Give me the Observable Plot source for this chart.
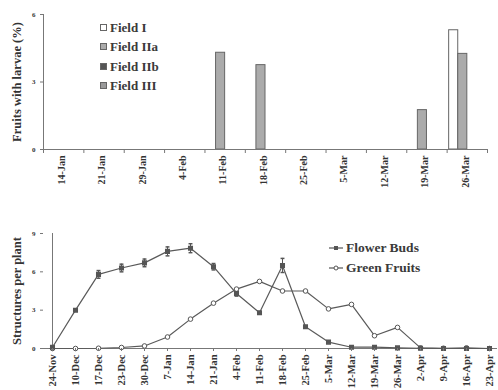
<!DOCTYPE html>
<html>
<head>
<meta charset="utf-8">
<script src="https://cdn.jsdelivr.net/npm/d3@7"></script>
<script src="https://cdn.jsdelivr.net/npm/@observablehq/plot@0.6"></script>
<style>
  body { margin: 0; background: #fff; }
  #wrap { position: relative; width: 498px; font-family: "Liberation Serif", "Times New Roman", serif; color: #333; }
  #wrap svg { display: block; }
  .leg { position: absolute; font-weight: bold; color: #3a3a3a; white-space: nowrap; }
  .leg div { display: flex; align-items: center; }
  .sw { display: inline-block; width: 7px; height: 7px; border: 1px solid #666; margin-right: 3px; box-sizing: border-box; }
</style>
</head>
<body>
<div id="wrap"></div>
<script>
// ---- Top chart data ----
const dates1 = ["14-Jan","21-Jan","29-Jan","4-Feb","11-Feb","18-Feb","25-Feb","5-Mar","12-Mar","19-Mar","26-Mar"];
const fields = ["Field I","Field IIa","Field IIb","Field III"];
const fieldI   = [0,0,0,0,0,0,0,0,0,0,5.3];
const fieldIIa = [0,0,0,0,4.3,3.75,0,0,0,1.75,4.25];
const fieldIIb = [0,0,0,0,0,0,0,0,0,0,0];
const fieldIII = [0,0,0,0,0,0,0,0,0,0,0];
const fieldColors = ["#ffffff","#ababab","#555555","#9a9a9a"];
const yTicks1 = [0,3,6];

// ---- Bottom chart data ----
const dates2 = ["24-Nov","10-Dec","17-Dec","23-Dec","30-Dec","7-Jan","14-Jan","21-Jan","4-Feb","11-Feb","18-Feb","25-Feb","5-Mar","12-Mar","19-Mar","26-Mar","2-Apr","9-Apr","16-Apr","23-Apr"];
const flowerBuds  = [0.1,3.0,5.8,6.3,6.7,7.6,7.85,6.4,4.3,2.8,6.5,1.7,0.5,0.1,0.1,0.05,0.02,0,0,0];
const budsErr     = [0,0,0.3,0.3,0.3,0.35,0.35,0.25,0.2,0,0.55,0,0,0,0,0,0,0,0,0];
const greenFruits = [0,0,0.02,0.08,0.2,0.9,2.3,3.55,4.65,5.25,4.5,4.5,3.1,3.45,1.0,1.65,0.05,0.02,0.05,0];
const yTicks2 = [0,3,6,9];

const serif = "Liberation Serif, Times New Roman, serif";
const wrap = document.getElementById("wrap");

// ---------- Top: grouped bars ----------
const series1 = [fieldI, fieldIIa, fieldIIb, fieldIII];
const rows1 = [];
fields.forEach((f, j) => dates1.forEach((d, i) => rows1.push({i, j, field: f, date: d, value: series1[j][i]})));
const pad = 0.05, w = (1 - 2 * pad) / fields.length;

const topChart = Plot.plot({
  width: 498, height: 200,
  marginLeft: 43, marginRight: 11, marginTop: 14, marginBottom: 51,
  style: {fontFamily: serif, color: "#333", background: "#fff"},
  x: {type: "linear", domain: [0, dates1.length]},
  y: {domain: [0, 6]},
  color: {domain: fields, range: fieldColors},
  marks: [
    Plot.rectY(rows1.filter(r => r.value > 0), {
      x1: r => r.i + pad + r.j * w, x2: r => r.i + pad + (r.j + 1) * w,
      y1: 0, y2: "value", fill: "field", stroke: "#666", strokeWidth: 1
    }),
    Plot.ruleY([0], {stroke: "#777"}),
    Plot.ruleX([0], {stroke: "#777"}),
    Plot.axisX({ticks: d3.range(0, dates1.length + 1), tickSize: 4, tickFormat: () => "", stroke: "#777", label: null}),
    Plot.axisX({ticks: d3.range(dates1.length).map(i => i + 0.5), tickSize: 0, tickPadding: 6,
      tickFormat: v => dates1[Math.floor(v)], tickRotate: -90, fontSize: 10, fontWeight: "bold", label: null, dx: -2}),
    Plot.axisY({ticks: yTicks1, tickFormat: d3.format("d"), tickSize: 3, tickPadding: 5, fontSize: 7, fontWeight: "bold", stroke: "#777", label: null}),
    Plot.text(["Fruits with larvae (%)"], {frameAnchor: "left", dx: -27, rotate: -90, text: d => d,
      fontSize: 12.5, fontWeight: "bold", fill: "#333", textAnchor: "middle"})
  ]
});
wrap.appendChild(topChart);

// ---------- Bottom: lines ----------
const rows2 = [];
dates2.forEach((d, i) => {
  rows2.push({date: d, series: "Flower Buds", value: flowerBuds[i], err: budsErr[i]});
  rows2.push({date: d, series: "Green Fruits", value: greenFruits[i], err: 0});
});
const buds = rows2.filter(r => r.series === "Flower Buds");
const fruits = rows2.filter(r => r.series === "Green Fruits");
const errs = buds.filter(r => r.err > 0);
const capSymbol = {draw(ctx, size) { const r = Math.sqrt(size) / 2; ctx.moveTo(-r, 0); ctx.lineTo(r, 0); }};

const bottomChart = Plot.plot({
  width: 498, height: 190,
  marginLeft: 43, marginRight: 1, marginTop: 33, marginBottom: 42,
  style: {fontFamily: serif, color: "#333", background: "#fff", overflow: "hidden"},
  x: {type: "point", domain: dates2, padding: 0},
  y: {domain: [0, 9]},
  marks: [
    Plot.ruleY([0], {stroke: "#777"}),
    Plot.ruleX([dates2[0]], {stroke: "#777"}),
    Plot.lineY(rows2, {x: "date", y: "value", z: "series", stroke: "#5a5a5a", strokeWidth: 1.2}),
    Plot.ruleX(errs, {x: "date", y1: r => r.value - r.err, y2: r => r.value + r.err, stroke: "#555"}),
    Plot.dot(errs, {x: "date", y: r => r.value + r.err, symbol: capSymbol, r: 2.2, stroke: "#555", fill: "none"}),
    Plot.dot(errs, {x: "date", y: r => r.value - r.err, symbol: capSymbol, r: 2.2, stroke: "#555", fill: "none"}),
    Plot.dot(fruits, {x: "date", y: "value", r: 2.3, fill: "#fff", stroke: "#555", strokeWidth: 1}),
    Plot.dot(buds, {x: "date", y: "value", r: 2, symbol: "square", fill: "#555", stroke: "#555"}),
    Plot.axisX({tickSize: 3, tickPadding: 3, tickRotate: -90, fontSize: 10.5, fontWeight: "bold", stroke: "#777", label: null}),
    Plot.axisY({ticks: yTicks2, tickFormat: d3.format("d"), tickSize: 3, tickPadding: 5, fontSize: 7, fontWeight: "bold", stroke: "#777", label: null}),
    Plot.text(["Structures per plant"], {frameAnchor: "left", dx: -27, rotate: -90, text: d => d,
      fontSize: 12.5, fontWeight: "bold", fill: "#333", textAnchor: "middle"})
  ]
});
wrap.appendChild(bottomChart);

// ---------- Legends (HTML) ----------
const leg1 = document.createElement("div");
leg1.className = "leg";
leg1.style.left = "100px"; leg1.style.top = "18px"; leg1.style.fontSize = "13px"; leg1.style.lineHeight = "19.3px";
fields.forEach((f, j) => {
  const row = document.createElement("div");
  const sw = document.createElement("span");
  sw.className = "sw"; sw.style.background = fieldColors[j];
  row.appendChild(sw);
  row.appendChild(document.createTextNode(f));
  leg1.appendChild(row);
});
wrap.appendChild(leg1);

const leg2 = document.createElement("div");
leg2.className = "leg";
leg2.style.left = "329px"; leg2.style.top = "238px"; leg2.style.fontSize = "13.5px"; leg2.style.lineHeight = "20px";
[["Flower Buds", "sq"], ["Green Fruits", "ci"]].forEach(([name, kind]) => {
  const row = document.createElement("div");
  const ns = "http://www.w3.org/2000/svg";
  const s = document.createElementNS(ns, "svg");
  s.setAttribute("width", "14"); s.setAttribute("height", "8");
  s.style.marginRight = "3px";
  const l = document.createElementNS(ns, "line");
  l.setAttribute("x1", "0"); l.setAttribute("x2", "14"); l.setAttribute("y1", "4"); l.setAttribute("y2", "4");
  l.setAttribute("stroke", "#555"); l.setAttribute("stroke-width", "1.2");
  s.appendChild(l);
  if (kind === "sq") {
    const r = document.createElementNS(ns, "rect");
    r.setAttribute("x", "5"); r.setAttribute("y", "2"); r.setAttribute("width", "4"); r.setAttribute("height", "4");
    r.setAttribute("fill", "#555"); s.appendChild(r);
  } else {
    const c = document.createElementNS(ns, "circle");
    c.setAttribute("cx", "7"); c.setAttribute("cy", "4"); c.setAttribute("r", "2");
    c.setAttribute("fill", "#fff"); c.setAttribute("stroke", "#555"); s.appendChild(c);
  }
  row.appendChild(s);
  row.appendChild(document.createTextNode(name));
  leg2.appendChild(row);
});
wrap.appendChild(leg2);
</script>
</body>
</html>
